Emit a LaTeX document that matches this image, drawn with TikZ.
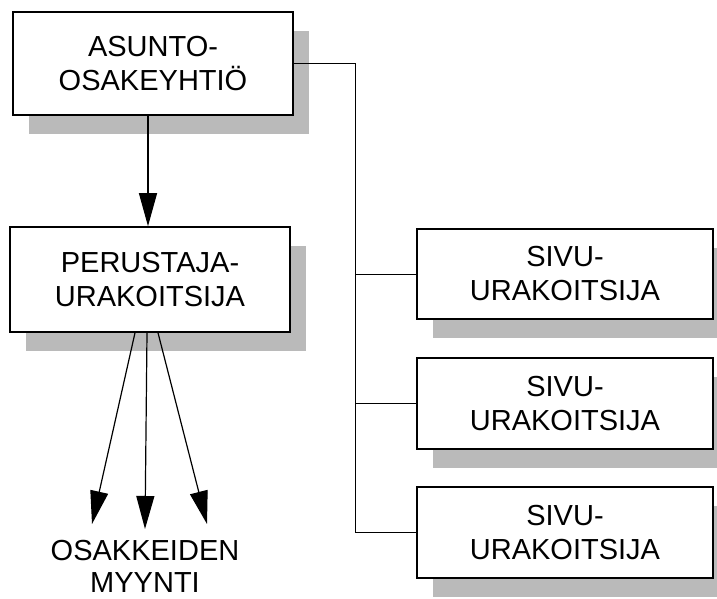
\documentclass[tikz,border=0pt]{standalone}
\usepackage{fontspec}
\setmainfont{Liberation Sans}
\usetikzlibrary{arrows.meta,shadows}

\begin{document}
\begin{tikzpicture}[x=1pt,y=-1pt,
    box/.style={draw,fill=white,line width=1.6pt,align=center,inner sep=0pt,
      font=\fontsize{29}{34}\selectfont,
      drop shadow={shadow xshift=16pt,shadow yshift=-19pt,fill=black!27,opacity=1}},
    line/.style={line width=1pt},
    arr/.style={line width=1.2pt,-{Triangle[length=33pt,width=18pt]}}]
	  \clip (0,0) rectangle (717,599);
	  \fill[white] (0,0) rectangle (717,599);

	  \node[box,minimum width=280pt,minimum height=103pt] (ao) at (153,63.5) {ASUNTO-\\OSAKEYHTIÖ};
	  \node[box,minimum width=280pt,minimum height=105pt] (pu) at (150,279.5) {PERUSTAJA-\\URAKOITSIJA};
	  \node[box,minimum width=296pt,minimum height=90pt] (s1) at (565,274) {SIVU-\\URAKOITSIJA};
	  \node[box,minimum width=296pt,minimum height=91pt] (s2) at (565,403.5) {SIVU-\\URAKOITSIJA};
	  \node[box,minimum width=296pt,minimum height=91pt] (s3) at (565,532.5) {SIVU-\\URAKOITSIJA};

	  \node[align=center,font=\fontsize{29}{32}\selectfont] (my) at (145,566) {OSAKKEIDEN\\MYYNTI};

	  \coordinate (bus) at (355,0);
	  \coordinate (m1) at (92,524);
	  \coordinate (m2) at (145,529);
	  \coordinate (m3) at (207,524);

	  \draw[arr] (ao.south -| 148,0) -- (pu.north -| 148,0);
	  \draw[line] (ao.east) -| (bus |- s3.west) -- (s3.west);
	  \draw[line] (bus |- s1.west) -- (s1.west);
	  \draw[line] (bus |- s2.west) -- (s2.west);

	  \draw[arr] ([xshift=-15pt]pu.south) -- (m1);
	  \draw[arr] ([xshift=-3pt]pu.south) -- (m2);
	  \draw[arr] ([xshift=8pt]pu.south) -- (m3);
\end{tikzpicture}
\end{document}
